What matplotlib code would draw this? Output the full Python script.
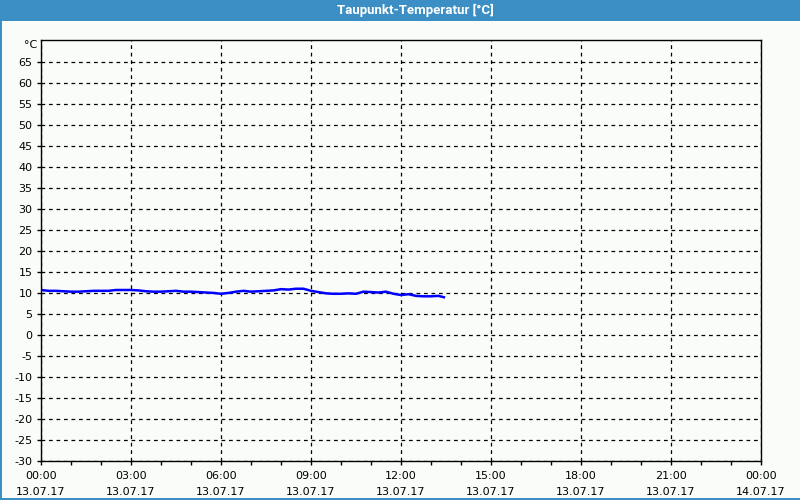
import matplotlib
matplotlib.use("Agg")
import matplotlib.pyplot as plt
from matplotlib.patches import Rectangle

title = "Taupunkt-Temperatur [°C]"
unit_label = "°C"

# time in hours since 13.07.17 00:00 (15-minute samples)
hours = [i * 0.25 for i in range(54)] + [13.47]
dewpoint = [10.7, 10.5, 10.5, 10.4, 10.3, 10.3, 10.4, 10.5, 10.5, 10.5,
            10.7, 10.7, 10.7, 10.6, 10.4, 10.3, 10.3, 10.4, 10.5, 10.3,
            10.3, 10.2, 10.1, 10.0, 9.8, 10.0, 10.3, 10.5, 10.3, 10.4,
            10.5, 10.6, 10.9, 10.8, 11.0, 11.0, 10.5, 10.2, 9.9, 9.8,
            9.8, 9.9, 9.8, 10.3, 10.2, 10.1, 10.3, 9.8, 9.5, 9.7,
            9.3, 9.2, 9.2, 9.3, 8.9]

x_ticks = [0, 3, 6, 9, 12, 15, 18, 21, 24]
x_labels = ["00:00\n13.07.17", "03:00\n13.07.17", "06:00\n13.07.17",
            "09:00\n13.07.17", "12:00\n13.07.17", "15:00\n13.07.17",
            "18:00\n13.07.17", "21:00\n13.07.17", "00:00\n14.07.17"]
y_ticks = list(range(-30, 70, 5))

W, H = 800, 500
fig = plt.figure(figsize=(8, 5), dpi=100)
fig.patch.set_facecolor("#fafcfa")

# title bar
fig.add_artist(Rectangle((0, 1 - 21 / H), 1, 21 / H, transform=fig.transFigure,
                         facecolor="#3c8fc4", edgecolor="none", zorder=0))
# window border (left, bottom)
fig.add_artist(Rectangle((0, 0), 2 / W, 1, transform=fig.transFigure,
                         facecolor="#3c8fc4", edgecolor="none"))
fig.add_artist(Rectangle((0, 0), 1, 2 / H, transform=fig.transFigure,
                         facecolor="#3c8fc4", edgecolor="none"))
fig.text(415 / W, 1 - 10.5 / H, title, color="white", fontsize=9.5,
         fontweight="bold", family="Roboto", ha="center", va="center")

ax = fig.add_axes([41 / W, 39 / H, 720 / W, 421 / H])
ax.set_facecolor("#fafcfa")
ax.plot(hours, dewpoint, color="#0000ff", lw=1.8, solid_capstyle="butt")

ax.set_xlim(0, 24)
ax.set_ylim(-30, 70.2)
ax.set_xticks(x_ticks)
ax.set_xticklabels(x_labels, linespacing=1.75)
ax.set_xticks(range(0, 25), minor=True)
ax.set_yticks(y_ticks)
ax.set_yticklabels([str(v) for v in y_ticks])

ax.grid(True, which="major", color="black", linestyle=(0, (3, 3)), lw=0.9)
ax.tick_params(axis="both", which="major", length=3, width=1, labelsize=8,
               colors="black", pad=3)
ax.tick_params(axis="x", which="minor", length=3, width=1)
ax.tick_params(axis="x", which="major", pad=4)
for s in ax.spines.values():
    s.set_color("black")
    s.set_linewidth(1)

fig.text(37 / W, 1 - 45 / H, unit_label, fontsize=8, ha="right", va="center")

fig.savefig("out.png", dpi=100, facecolor=fig.get_facecolor())
